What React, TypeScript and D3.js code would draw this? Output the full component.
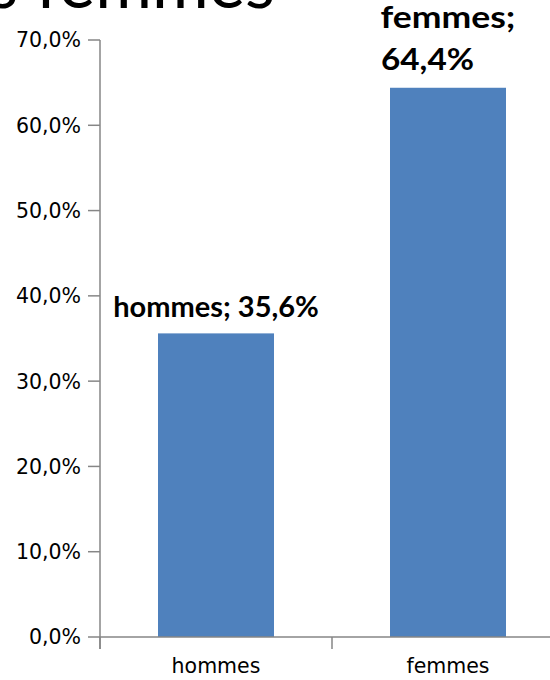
import React from "react";
import * as d3 from "d3";

const categories = ["hommes", "femmes"];
const values = [0.356, 0.644];
const yTicks = [0, 0.1, 0.2, 0.3, 0.4, 0.5, 0.6, 0.7];
const labelWrapped = [false, true];
const titleText = "Répartition hommes femmes";

const W = 550;
const H = 680;
const fr = d3.formatLocale({ decimal: ",", thousands: " ", grouping: [3], currency: ["", "€"], percent: "%" });
const pct = fr.format(".1%");

export default function App() {
  const y = d3.scaleLinear().domain([0, 0.7]).range([637, 40]);
  const x = d3.scaleBand<string>().domain(categories).range([100, 564]).paddingInner(0.5).paddingOuter(0.25);
  const step = x.step();
  const axisColor = "#868686";
  const tickFont = "'DejaVu Sans', Verdana, sans-serif";
  const boldFont = "Lato, 'Open Sans', sans-serif";
  const boundaries = [0, 1, 2].map((i) => 100 + i * step);

  return (
    <svg width={W} height={H} style={{ position: "absolute", left: 0, top: 0, background: "#fff" }}>
      <text x={275} y={8} textAnchor="end" fontFamily={boldFont} fontSize={69} fill="#000">
        {titleText}
      </text>
      {values.map((v, i) => (
        <rect key={categories[i]} x={x(categories[i])} y={y(v)} width={x.bandwidth()} height={y(0) - y(v)} fill="#4F81BD" />
      ))}
      <line x1={100} x2={100} y1={y(0.7)} y2={y(0) + 12} stroke={axisColor} strokeWidth={1.5} />
      <line x1={100} x2={W} y1={y(0)} y2={y(0)} stroke={axisColor} strokeWidth={1.5} />
      {yTicks.map((t) => (
        <g key={t}>
          <line x1={88} x2={100} y1={y(t)} y2={y(t)} stroke={axisColor} strokeWidth={1.5} />
          <text x={81} y={y(t)} dy="0.36em" textAnchor="end" fontFamily={tickFont} fontSize={20.5} fill="#000">
            {pct(t)}
          </text>
        </g>
      ))}
      {boundaries.map((b) => (
        <line key={b} x1={b} x2={b} y1={y(0)} y2={y(0) + 12} stroke={axisColor} strokeWidth={1.5} />
      ))}
      {categories.map((c) => (
        <text key={c} x={(x(c) as number) + x.bandwidth() / 2} y={673} textAnchor="middle" fontFamily={tickFont} fontSize={20.5} fill="#000">
          {c}
        </text>
      ))}
      {values.map((v, i) => {
        const cx = (x(categories[i]) as number) + x.bandwidth() / 2;
        const top = y(v);
        if (!labelWrapped[i]) {
          return (
            <text key={i} x={cx} y={top - 16} textAnchor="middle" fontFamily={boldFont} fontWeight="bold" fontSize={29} fill="#000">
              {`${categories[i]}; ${pct(v)}`}
            </text>
          );
        }
        return (
          <g key={i}>
            <text x={cx} y={top - 60} textAnchor="middle" fontFamily={boldFont} fontWeight="bold" fontSize={30} textLength={135} lengthAdjust="spacingAndGlyphs" fill="#000">
              {`${categories[i]};`}
            </text>
            <text x={cx - 67} y={top - 18} textAnchor="start" fontFamily={boldFont} fontWeight="bold" fontSize={30} textLength={93} lengthAdjust="spacingAndGlyphs" fill="#000">
              {pct(v)}
            </text>
          </g>
        );
      })}
    </svg>
  );
}
